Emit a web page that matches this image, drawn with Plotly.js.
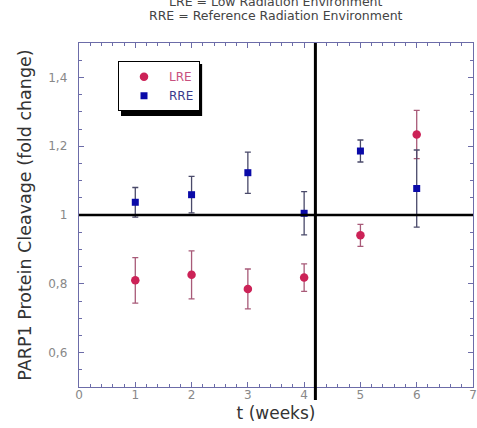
<!DOCTYPE html>
<html>
<head>
<meta charset="utf-8">
<script src="https://cdn.plot.ly/plotly-3.0.1.min.js"></script>
<style>html,body{margin:0;padding:0;background:#fff;}#chart{width:477px;height:428px;}</style>
</head>
<body>
<div id="chart"></div>
<script>
// ---- data ----
const weeks = [1, 2, 3, 4, 5, 6];
const lreValues = [0.810, 0.826, 0.785, 0.818, 0.941, 1.234];
const lreErrors = [0.066, 0.070, 0.058, 0.040, 0.032, 0.070];
const rreValues = [1.037, 1.059, 1.123, 1.005, 1.186, 1.077];
const rreErrors = [0.043, 0.053, 0.060, 0.063, 0.032, 0.112];
const yTickVals = [0.6, 0.8, 1, 1.2, 1.4];
const yTickText = ['0,6', '0,8', '1', '1,2', '1,4'];
const xTickVals = [0, 1, 2, 3, 4, 5, 6, 7];
const xTickText = ['0', '1', '2', '3', '4', '5', '6', '7'];
const referenceLevel = 1;
const splitWeek = 4.2;
const noteLines = ['LRE = Low Radiation Environment', 'RRE = Reference Radiation Environment'];

const FONT = 'DejaVu Sans, Liberation Sans, Arial, sans-serif';
const AXIS_COLOR = '#6c6ca8';

const traces = [
  {
    x: weeks, y: lreValues, type: 'scatter', mode: 'markers',
    name: '<span style="color:#c8507e">LRE</span>',
    marker: {symbol: 'circle', size: 8.5, color: '#cc2257'},
    error_y: {type: 'data', array: lreErrors, visible: true, color: '#a85a78', thickness: 1.3, width: 3}
  },
  {
    x: weeks, y: rreValues, type: 'scatter', mode: 'markers',
    name: '<span style="color:#3a3a8c">RRE</span>',
    marker: {symbol: 'square', size: 7, color: '#0a0aa8'},
    error_y: {type: 'data', array: rreErrors, visible: true, color: '#4a4a6a', thickness: 1.3, width: 3}
  }
];

const axisCommon = {
  showline: true, linecolor: AXIS_COLOR, linewidth: 1.3, mirror: 'allticks',
  ticks: 'inside', ticklen: 5, tickcolor: AXIS_COLOR, tickwidth: 1,
  showgrid: false, zeroline: false,
  tickfont: {family: FONT, size: 12, color: '#888'}
};

const layout = {
  width: 477, height: 428,
  margin: {l: 79, r: 4, t: 43, b: 41},
  paper_bgcolor: '#fff', plot_bgcolor: '#fff',
  font: {family: FONT},
  showlegend: true,
  legend: {
    x: 0.099, y: 0.947, xanchor: 'left', yanchor: 'top',
    bgcolor: '#fff', bordercolor: '#000', borderwidth: 1,
    font: {family: FONT, size: 12},
    itemwidth: 40
  },
  xaxis: Object.assign({}, axisCommon, {
    range: [0, 7], tickvals: xTickVals, ticktext: xTickText,
    ticklabelstandoff: -4,
    minor: {dtick: 0.2, ticks: 'inside', ticklen: 3, tickcolor: AXIS_COLOR},
    title: {text: 't (weeks)', font: {family: FONT, size: 17, color: '#333'}, standoff: 6}
  }),
  yaxis: Object.assign({}, axisCommon, {
    range: [0.5, 1.5], tickvals: yTickVals, ticktext: yTickText,
    ticklabelstandoff: 8,
    minor: {dtick: 0.05, ticks: 'inside', ticklen: 3, tickcolor: AXIS_COLOR},
    title: {text: 'PARP1 Protein Cleavage (fold change)', font: {family: FONT, size: 17.5, color: '#333'}, standoff: 12}
  }),
  shapes: [
    {type: 'line', xref: 'paper', yref: 'y', x0: 0, x1: 1, y0: referenceLevel, y1: referenceLevel,
     line: {color: '#000', width: 2.5}, layer: 'above'},
    {type: 'line', xref: 'x', yref: 'paper', x0: splitWeek, x1: splitWeek, y0: -0.038, y1: 1,
     line: {color: '#000', width: 3}, layer: 'above'},
    {type: 'rect', xref: 'paper', yref: 'paper', x0: 0.1066, x1: 0.3125, y0: 0.788, y1: 0.939,
     fillcolor: '#000', line: {width: 0}, layer: 'below'}
  ],
  annotations: [
    {text: noteLines[0], xref: 'paper', yref: 'paper', x: 0.5, y: 1.1215, showarrow: false,
     xanchor: 'center', yanchor: 'middle', font: {family: FONT, size: 12.5, color: '#444'}},
    {text: noteLines[1], xref: 'paper', yref: 'paper', x: 0.5, y: 1.0785, showarrow: false,
     xanchor: 'center', yanchor: 'middle', font: {family: FONT, size: 12.5, color: '#444'}}
  ]
};

Plotly.newPlot('chart', traces, layout, {displayModeBar: false, staticPlot: true});
</script>
</body>
</html>
